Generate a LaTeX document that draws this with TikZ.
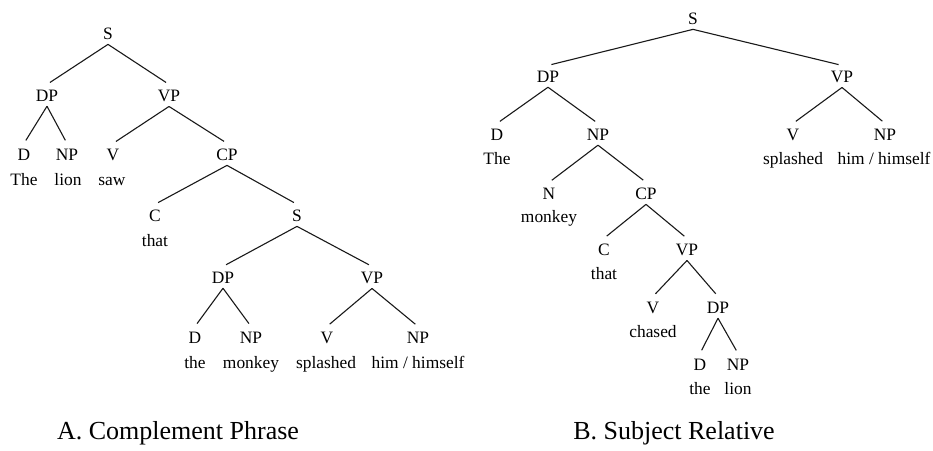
\documentclass[tikz,border=0pt]{standalone}
\usepackage{fontspec}
\setmainfont{Liberation Serif}
\begin{document}
\begin{tikzpicture}[x=1pt,y=-1pt,
  cat/.style={anchor=base, inner ysep=5pt, inner xsep=1pt, font=\fontsize{17.4}{20}\selectfont},
  word/.style={anchor=base, inner sep=1pt, font=\fontsize{17.4}{20}\selectfont},
  caption/.style={anchor=base, inner sep=0pt, font=\fontsize{26}{30}\selectfont},
  branch/.style={draw=black!90, line width=1.1pt, shorten >=3.5pt}]
\useasboundingbox (0,0) rectangle (933,450);
% ---------- Tree A ----------
\node[cat] (aS) at (108,39) {S};
\node[cat] (aDP) at (47,101) {DP};
\node[cat] (aVP) at (169,101) {VP};
\node[cat] (aD) at (24,160) {D};
\node[cat] (aNP) at (67,160) {NP};
\node[cat] (aV) at (113,160) {V};
\node[cat] (aCP) at (227,160) {CP};
\node[word] (wThe) at (24,185) {The};
\node[word] (wlion) at (68,185) {lion};
\node[word] (wsaw) at (112,185) {saw};
\node[cat] (aC) at (155,221) {C};
\node[cat] (aS2) at (297,221) {S};
\node[word] (wthat) at (155,246) {that};
\node[cat] (aDP2) at (223,283) {DP};
\node[cat] (aVP2) at (372,283) {VP};
\node[cat] (aD2) at (195,343) {D};
\node[cat] (aNP2) at (251,343) {NP};
\node[cat] (aV2) at (327,343) {V};
\node[cat] (aNP3) at (418,343) {NP};
\node[word] (wthe) at (195,368) {the};
\node[word] (wmonkey) at (251,368) {monkey};
\node[word] (wsplashed) at (326,368) {splashed};
\node[word] (whim) at (418,368) {him / himself};
\foreach \p/\c in {aS/aDP,aS/aVP,aDP/aD,aDP/aNP,aVP/aV,aVP/aCP,aCP/aC,aCP/aS2,aS2/aDP2,aS2/aVP2,aDP2/aD2,aDP2/aNP2,aVP2/aV2,aVP2/aNP3}
  \draw[branch] (\p.south) -- (\c.north);
\node[caption] (capA) at (178,439) {A. Complement Phrase};
% ---------- Tree B ----------
\node[cat] (bS) at (693,24) {S};
\node[cat] (bDP) at (548,82) {DP};
\node[cat] (bVP) at (842,82) {VP};
\node[cat] (bD) at (497,140) {D};
\node[cat] (bNP) at (598,140) {NP};
\node[cat] (bV) at (793,140) {V};
\node[cat] (bNP2) at (885,140) {NP};
\node[word] (bwThe) at (497,164) {The};
\node[word] (bwsplashed) at (793,164) {splashed};
\node[word] (bwhim) at (884,164) {him / himself};
\node[cat] (bN) at (549,199) {N};
\node[cat] (bCP) at (646,199) {CP};
\node[word] (bwmonkey) at (549,222) {monkey};
\node[cat] (bC) at (604,255) {C};
\node[cat] (bVP2) at (687,255) {VP};
\node[word] (bwthat) at (604,279) {that};
\node[cat] (bV2) at (653,313) {V};
\node[cat] (bDP2) at (718,313) {DP};
\node[word] (bwchased) at (653,337) {chased};
\node[cat] (bD2) at (700,370) {D};
\node[cat] (bNP3) at (738,370) {NP};
\node[word] (bwthe) at (700,394) {the};
\node[word] (bwlion) at (738,394) {lion};
\foreach \p/\c in {bS/bDP,bS/bVP,bDP/bD,bDP/bNP,bVP/bV,bVP/bNP2,bNP/bN,bNP/bCP,bCP/bC,bCP/bVP2,bVP2/bV2,bVP2/bDP2,bDP2/bD2,bDP2/bNP3}
  \draw[branch] (\p.south) -- (\c.north);
\node[caption] (capB) at (674,439) {B. Subject Relative};
\end{tikzpicture}
\end{document}
